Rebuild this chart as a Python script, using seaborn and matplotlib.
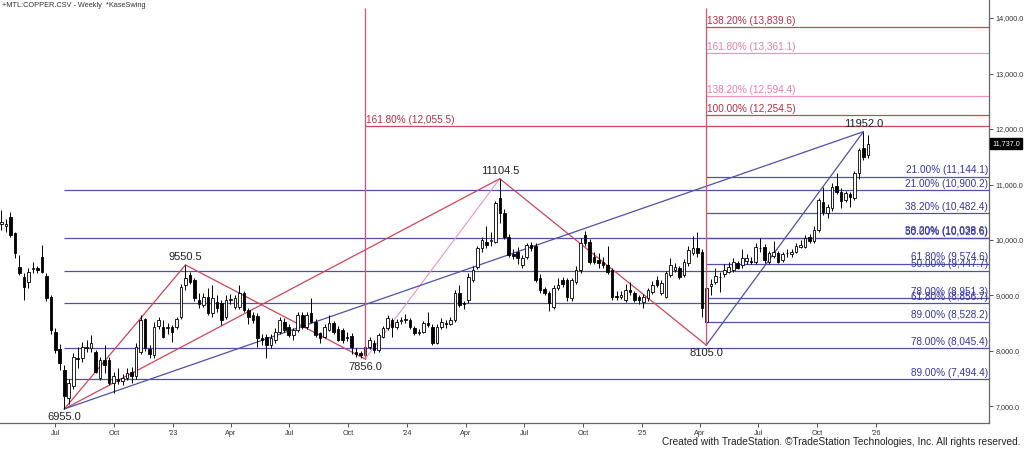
import matplotlib
matplotlib.use("Agg")
import matplotlib.pyplot as plt
import matplotlib.dates as mdates
from matplotlib.ticker import FuncFormatter
import pandas as pd
import seaborn as sns

# weekly copper bars, first bar is the week ending 2022-04-08
FIRST_WEEK = "2022-04-08"
LAST_TICK = "2026-01-01"

opens = [10280, 10250, 10420, 10120, 9520, 9340, 9250, 9470, 9500, 9700,
         9350, 8980, 8350, 8040, 7660, 7150, 7360, 7880, 7870, 8060,
         8060, 7990, 7510, 7830, 7840, 7430, 7500, 7450, 7510, 7630,
         7540, 7990, 8570, 8030, 7930, 8450, 8440, 8420, 8440, 8430,
         8620, 9190, 9370, 9280, 8920, 8830, 8980, 8690, 8890, 8860,
         8620, 8910, 8800, 8800, 9040, 8740, 8650, 8630, 8230, 8250,
         8110, 8200, 8350, 8530, 8440, 8290, 8380, 8650, 8440, 8680,
         8530, 8320, 8260, 8380, 8500, 8400, 8380, 8260, 8270, 7990,
         7960, 7930, 8080, 8140, 8020, 8260, 8410, 8560, 8440, 8540,
         8550, 8560, 8410, 8320, 8350, 8510, 8440, 8140, 8440, 8500,
         8490, 8560, 9040, 8870, 8920, 9280, 9520, 9850, 9970, 9980,
         9970, 10750, 10480, 10060, 9740, 9790, 9550, 9700, 9910, 9900,
         9310, 9110, 9040, 8800, 9130, 9280, 9280, 8950, 9250, 9460,
         10090, 9970, 9700, 9640, 9610, 9550, 9460, 8980, 8970, 8920,
         9100, 9040, 8970, 8890, 8950, 9070, 9280, 9040, 8980, 9370,
         9460, 9490, 9370, 9580, 9760, 9850, 9790, 8530, 9170, 9250,
         9330, 9380, 9430, 9460, 9580, 9550, 9630, 9630, 9610, 9850,
         9870, 9610, 9710, 9770, 9640, 9760, 9750, 9790, 9880, 9880,
         10050, 9990, 10180, 10690, 10480, 10570, 10980, 10870, 10720, 10820,
         10750, 11200, 11650, 11530]
highs = [10540, 10380, 10510, 10150, 9730, 9400, 9500, 9600, 9540, 9910,
         9400, 9000, 8410, 8130, 7750, 7500, 7960, 8070, 8170, 8200,
         8290, 8020, 7900, 8100, 7900, 7620, 7700, 7580, 7700, 7720,
         8150, 8640, 8600, 8110, 8530, 8620, 8560, 8500, 8460, 8620,
         9200, 9550.5, 9420, 9320, 9050, 9050, 9130, 9180, 9000, 8920,
         9000, 9020, 9000, 9190, 9080, 8780, 8700, 8680, 8300, 8300,
         8300, 8420, 8620, 8600, 8480, 8420, 8700, 8700, 8700, 8960,
         8580, 8350, 8480, 8640, 8540, 8450, 8420, 8350, 8320, 8050,
         8000, 8120, 8260, 8200, 8330, 8450, 8640, 8600, 8570, 8620,
         8660, 8600, 8450, 8400, 8540, 8700, 8480, 8480, 8600, 8560,
         8620, 9100, 9190, 8900, 9400, 9530, 9900, 10050, 10250, 10150,
         10700, 11104.5, 10560, 10100, 9830, 9880, 9730, 9950, 9960, 9950,
         9380, 9150, 9080, 9180, 9320, 9330, 9320, 9320, 9540, 10030,
         10160, 10020, 9780, 9760, 9700, 9900, 9500, 9080, 9080, 9200,
         9250, 9080, 9000, 9020, 9140, 9260, 9350, 9280, 9440, 9670,
         9580, 9540, 9650, 9900, 10070, 10150, 9830, 9200, 9300, 9500,
         9420, 9560, 9600, 9680, 9620, 9840, 9750, 9700, 9950, 10030,
         9920, 9800, 9990, 9810, 9780, 9830, 9830, 9950, 10000, 10090,
         10110, 10260, 10760, 10960, 10650, 11030, 11200, 10930, 10880, 10860,
         11240, 11660, 11952, 11890]
lows = [10180, 10150, 10060, 9670, 9370, 8920, 9140, 9400, 9400, 9400,
        8900, 8300, 7960, 7660, 6955, 7050, 7320, 7700, 7810, 7980,
        7980, 7600, 7480, 7600, 7380, 7240, 7400, 7380, 7480, 7430,
        7500, 7950, 8000, 7880, 7880, 8400, 8230, 8300, 8170, 8400,
        8580, 9100, 9200, 8900, 8780, 8800, 8650, 8620, 8700, 8470,
        8580, 8850, 8750, 8760, 8700, 8480, 8500, 8080, 8100, 7880,
        8050, 8150, 8300, 8340, 8250, 8200, 8350, 8400, 8400, 8500,
        8260, 8150, 8230, 8360, 8300, 8180, 8150, 8180, 7950, 7900,
        7880, 7856, 8030, 7970, 7990, 8230, 8380, 8260, 8390, 8480,
        8500, 8400, 8280, 8290, 8320, 8430, 8100, 8120, 8400, 8420,
        8460, 8530, 8800, 8750, 8870, 9250, 9480, 9780, 9850, 9900,
        9950, 10300, 10020, 9700, 9650, 9560, 9500, 9650, 9800, 9250,
        9050, 9000, 8720, 8760, 9100, 9150, 8900, 8900, 9200, 9400,
        9900, 9560, 9560, 9500, 9500, 9380, 8920, 8920, 8930, 8880,
        9000, 8880, 8850, 8780, 8900, 9020, 9150, 9000, 8950, 9330,
        9420, 9300, 9330, 9540, 9730, 9700, 8620, 8105, 9000, 9200,
        9070, 9340, 9400, 9420, 9470, 9500, 9560, 9560, 9560, 9780,
        9580, 9560, 9680, 9580, 9610, 9700, 9690, 9760, 9850, 9850,
        9950, 9950, 10150, 10450, 10390, 10530, 10830, 10570, 10690, 10600,
        10720, 11100, 11440, 11480]
closes = [10320, 10280, 10090, 9760, 9400, 9150, 9430, 9500, 9460, 9430,
          8950, 8380, 8020, 7780, 7180, 7430, 7900, 7860, 8080, 8080,
          8150, 7630, 7840, 7740, 7420, 7540, 7460, 7510, 7600, 7540,
          8080, 8560, 8050, 7950, 8440, 8550, 8260, 8440, 8350, 8570,
          9160, 9310, 9250, 8950, 8850, 8980, 8680, 8950, 8770, 8560,
          8920, 8940, 8950, 9040, 8740, 8620, 8560, 8230, 8200, 8110,
          8230, 8350, 8560, 8380, 8290, 8380, 8650, 8440, 8650, 8530,
          8290, 8230, 8440, 8500, 8350, 8200, 8200, 8230, 8080, 7950,
          7930, 8080, 8200, 8020, 8290, 8410, 8590, 8440, 8530, 8550,
          8570, 8440, 8320, 8340, 8500, 8470, 8140, 8440, 8530, 8480,
          8560, 9040, 8830, 8850, 9340, 9460, 9850, 10000, 9910, 10000,
          10660, 10480, 10060, 9730, 9720, 9670, 9670, 9910, 9850, 9280,
          9100, 9040, 8860, 9130, 9190, 9210, 8980, 9280, 9460, 9940,
          9940, 9610, 9610, 9590, 9550, 9430, 8980, 8970, 9010, 9100,
          9070, 8920, 8920, 8970, 9100, 9190, 9190, 9220, 9400, 9550,
          9520, 9340, 9610, 9820, 9850, 9760, 8770, 9130, 9210, 9350,
          9340, 9460, 9520, 9610, 9490, 9670, 9670, 9610, 9880, 9860,
          9640, 9760, 9790, 9610, 9750, 9770, 9790, 9890, 9910, 10030,
          9990, 10180, 10720, 10510, 10600, 10960, 10870, 10710, 10840, 10780,
          11200, 11620, 11500, 11737]

# swing pivots (bar index, high or low)
swing_idx = [14, 41, 81, 111, 157, 192]
swing_kind = ["L", "H", "L", "H", "L", "H"]

# retracements measured from the 6955 low and from the 8105 low
ret_a_pct = [21.0, 38.2, 50.0, 61.8, 78.0, 89.0]
ret_a_lvl = [10900.2, 10038.6, 9447.7, 8856.7, 8045.4, 7494.4]
ret_b_pct = [21.0, 38.2, 50.0, 61.8, 78.0, 89.0]
ret_b_lvl = [11144.1, 10482.4, 10028.6, 9574.6, 8951.3, 8528.2]

# upside projections
proj_pct = [138.2, 161.8, 138.2, 100.0, 161.8]
proj_lvl = [13839.6, 13361.1, 12594.4, 12254.5, 12055.5]
proj_kind = ["red", "pink", "pink", "red", "red"]
proj_from = [157, 157, 157, 157, 81]

RED = "#cf4457"
RED_TXT = "#b82c44"
PINK = "#ee93c3"
PINK_TXT = "#e27db2"
BLUE = "#5050ac"
BLUE_TXT = "#3535a0"

sns.set_style("white")
plt.rcParams["font.family"] = ["Liberation Sans", "DejaVu Sans"]

dates = pd.date_range(FIRST_WEEK, periods=len(closes), freq="7D")
xs = mdates.date2num(dates)
price = {"L": lows, "H": highs}

fig = plt.figure(figsize=(10.24, 4.5), dpi=100)
ax = fig.add_axes([0.0, 27 / 450, 989 / 1024, 423 / 450])

x_left = xs[0] - 2.2
x_right = xs[0] + 219.96 * 7
ax.set_xlim(x_left, x_right)
ax.set_ylim(6702, 14325)

# retracement lines
for lvl, pct, start in ([(l, p, 14) for l, p in zip(ret_a_lvl, ret_a_pct)]
                        + [(l, p, 157) for l, p in zip(ret_b_lvl, ret_b_pct)]):
    ax.hlines(lvl, xs[start], x_right, color=BLUE, lw=0.9, zorder=1)
    ax.text(0.999, lvl + 25, f"{pct:.2f}% ({lvl:,.1f})", transform=ax.get_yaxis_transform(),
            ha="right", va="bottom", fontsize=7.2, color=BLUE_TXT, zorder=5)

# projection lines
for lvl, pct, kind, start in zip(proj_lvl, proj_pct, proj_kind, proj_from):
    c = RED if kind == "red" else PINK
    ct = RED_TXT if kind == "red" else PINK_TXT
    ax.hlines(lvl, xs[start], x_right, color=c, lw=0.9, zorder=1)
    ax.text(xs[start] + 1.5, lvl + 25, f"{pct:.2f}% ({lvl:,.1f})",
            ha="left", va="bottom", fontsize=7.2, color=ct, zorder=5)

# swing legs
legs = [(0, 1, RED, 0.9), (1, 2, RED, 0.9), (2, 3, PINK, 0.8), (3, 4, RED, 0.9),
        (0, 3, RED, 0.9), (4, 5, BLUE, 0.9), (0, 5, BLUE, 0.9)]
for a, b, c, w in legs:
    ia, ib = swing_idx[a], swing_idx[b]
    seg = pd.DataFrame({"date": [dates[ia], dates[ib]],
                        "price": [price[swing_kind[a]][ia], price[swing_kind[b]][ib]]})
    sns.lineplot(data=seg, x="date", y="price", ax=ax, color=c, lw=w,
                 sort=False, estimator=None, zorder=2)

# candles
body_w = 4.0
for x, o, h, l, c in zip(xs, opens, highs, lows, closes):
    ax.vlines(x, l, h, color="black", lw=0.7, zorder=3)
    up = c >= o
    ax.bar(x, max(abs(c - o), 12), bottom=min(o, c), width=body_w,
           color="white" if up else "black", edgecolor="black", lw=0.6, zorder=4)

# vertical markers from the pivot lows
for k in (2, 4):
    i = swing_idx[k]
    ax.vlines(xs[i], lows[i], 14181, color="#e0506a", lw=0.9, zorder=4.5)

# pivot labels
for i, kind in zip(swing_idx, swing_kind):
    p = price[kind][i]
    ax.annotate(f"{p:.1f}", (xs[i], p), xytext=(0, 2 if kind == "H" else -2),
                textcoords="offset points", ha="center",
                va="bottom" if kind == "H" else "top",
                fontsize=8, color="#222222", zorder=6)

# axes styling
for s in ("top", "left"):
    ax.spines[s].set_visible(False)
for s in ("right", "bottom"):
    ax.spines[s].set_color("#666666")
    ax.spines[s].set_linewidth(0.9)

ax.yaxis.tick_right()
ax.set_yticks([7000, 8000, 9000, 10000, 11000, 12000, 13000, 14000])
ax.yaxis.set_major_formatter(FuncFormatter(lambda v, _: f"{v:,.1f}"))
ax.tick_params(axis="y", direction="out", length=3, width=0.6, pad=1.5,
               labelsize=5.2, colors="#333333", right=True, left=False)

qticks = pd.date_range("2022-07-01", LAST_TICK, freq="QS-JAN")
ax.set_xticks(mdates.date2num(qticks))
ax.set_xticklabels([f"'{d.year % 100:02d}" if d.month == 1 else d.strftime("%b") for d in qticks])
ax.tick_params(axis="x", direction="out", length=3, width=0.6, pad=2,
               labelsize=5.2, colors="#333333", bottom=True)
ax.set_xlabel("")
ax.set_ylabel("")
ax.grid(False)

# last price tag
ax.text(1.003, closes[-1], f"{closes[-1]:,.1f}", transform=ax.get_yaxis_transform(),
        ha="left", va="center", fontsize=5.2, color="white", clip_on=False,
        bbox=dict(boxstyle="square,pad=0.25", fc="black", ec="black"))

fig.text(0.002, 0.995, "+MTL:COPPER.CSV - Weekly  *KaseSwing", ha="left", va="top",
         fontsize=5.3, color="#333333")
fig.text(0.997, 0.006, "Created with TradeStation. \u00a9TradeStation Technologies, Inc. All rights reserved.",
         ha="right", va="bottom", fontsize=7.3, color="#222222")

fig.savefig("out.png", dpi=100)
